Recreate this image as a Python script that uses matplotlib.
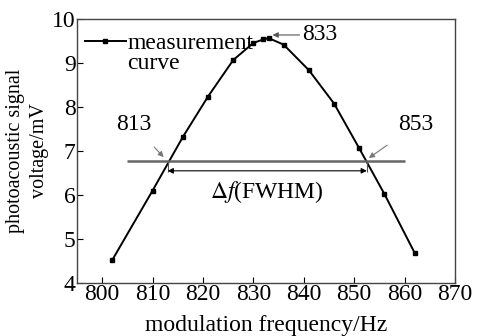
import matplotlib.pyplot as plt

plt.rcParams["font.family"] = ["Liberation Serif", "DejaVu Serif"]
plt.rcParams["mathtext.fontset"] = "stix"

freq = [802, 810, 816, 821, 826, 830, 832, 833, 836, 841, 846, 851, 856, 862]
voltage = [4.52, 6.10, 7.32, 8.24, 9.07, 9.46, 9.54, 9.57, 9.42, 8.84, 8.08, 7.06, 6.02, 4.68]

half_level = 6.77
f_low = 813
f_high = 852.5
f_peak = 833
x_ticks = [800, 810, 820, 830, 840, 850, 860, 870]
y_ticks = [4, 5, 6, 7, 8, 9, 10]

fig = plt.figure(figsize=(4.78, 3.36), dpi=100)
ax = fig.add_axes([0.161, 0.158, 0.791, 0.785])

ax.plot(freq, voltage, "-", color="black", lw=1.4, marker="s", ms=2.3,
        label="measurement")

# half-maximum level and width marker
ax.hlines(half_level, 805, 860, color="#666666", lw=1.8)
ax.vlines([f_low, f_high], 6.52, half_level, color="#555555", lw=0.8)
ax.annotate("", xy=(f_low, 6.55), xytext=(f_high, 6.55),
            arrowprops=dict(arrowstyle="<|-|>", color="black", lw=0.8,
                            mutation_scale=8, shrinkA=0, shrinkB=0))
ax.text((f_low + f_high) / 2, 6.07, r"$\Delta f$(FWHM)", ha="center",
        va="center", fontsize=17)

ax.annotate(str(f_low), xy=(f_low - 0.8, 6.86), xytext=(806.2, 7.6),
            ha="center", va="center", fontsize=17,
            arrowprops=dict(arrowstyle="-|>", color="#777777", lw=0.8,
                            mutation_scale=8, shrinkA=9, shrinkB=0))
ax.annotate("853", xy=(f_high + 0.4, 6.84), xytext=(862.3, 7.6),
            ha="center", va="center", fontsize=17,
            arrowprops=dict(arrowstyle="-|>", color="#777777", lw=0.8,
                            mutation_scale=8, shrinkA=9, shrinkB=0))
ax.annotate(str(f_peak), xy=(f_peak + 0.8, 9.64), xytext=(839.7, 9.64),
            ha="left", va="center", fontsize=17,
            arrowprops=dict(arrowstyle="-|>", color="#555555", lw=0.8,
                            mutation_scale=8, shrinkA=0, shrinkB=0))

leg = ax.legend(loc="upper left", frameon=False, fontsize=17,
                handlelength=1.75, handletextpad=0.08, borderaxespad=0.0,
                bbox_to_anchor=(-0.005, 0.985))
ax.text(804.9, 9.0, "curve", ha="left", va="center", fontsize=17)

ax.set_xlim(795, 870)
ax.set_ylim(4, 10)
ax.set_xticks(x_ticks)
ax.set_yticks(y_ticks)
ax.tick_params(direction="in", length=4, width=0.8, labelsize=17, pad=1)
for s in ax.spines.values():
    s.set_color("#444444")
    s.set_linewidth(1.0)

ax.set_xlabel("modulation frequency/Hz", fontsize=17, labelpad=7)
ax.set_ylabel("photoacoustic signal\nvoltage/mV", fontsize=14.5, labelpad=2,
              linespacing=1.4)

fig.savefig("out.png", dpi=100)
